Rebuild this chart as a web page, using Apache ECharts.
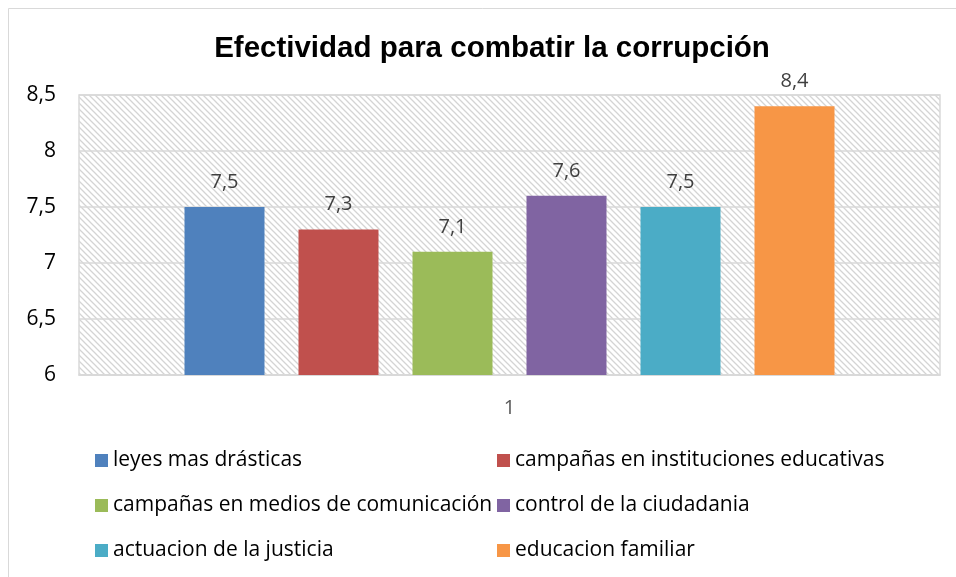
<!DOCTYPE html>
<html>
<head>
<meta charset="utf-8">
<script src="https://cdn.jsdelivr.net/npm/echarts@6/dist/echarts.min.js"></script>
<style>html,body{margin:0;padding:0;background:#fff}#c{width:956px;height:577px}</style>
</head>
<body>
<div id="c"></div>
<script>
const categories = ['1'];
const seriesNames = ['leyes mas drásticas', 'campañas en instituciones educativas', 'campañas en medios de comunicación', 'control de la ciudadania', 'actuacion de la justicia', 'educacion familiar'];
const seriesValues = [7.5, 7.3, 7.1, 7.6, 7.5, 8.4];
const seriesColors = ['#4f81bd', '#c0504d', '#9bbb59', '#8064a2', '#4bacc6', '#f79646'];
const titleText = 'Efectividad para combatir la corrupción';

const tile = document.createElement('canvas');
tile.width = 6; tile.height = 6;
const tc = tile.getContext('2d');
tc.fillStyle = '#ffffff'; tc.fillRect(0, 0, 6, 6);
tc.strokeStyle = '#d4d4d4'; tc.lineWidth = 1.3;
tc.beginPath();
tc.moveTo(-1, -1); tc.lineTo(7, 7);
tc.moveTo(-7, -1); tc.lineTo(1, 7);
tc.moveTo(5, -1); tc.lineTo(13, 7);
tc.stroke();

const fmt = v => String(v).replace('.', ',');
const font = '"Open Sans", sans-serif';

const chart = echarts.init(document.getElementById('c'), null, {renderer: 'canvas'});
chart.setOption({
  animation: false,
  backgroundColor: '#ffffff',
  title: {
    text: titleText, left: 487, textAlign: 'center', top: 29,
    textStyle: {fontFamily: 'Liberation Sans, Arial, sans-serif', fontWeight: 'bold', fontSize: 29.5, color: '#000'}
  },
  graphic: [{type: 'rect', shape: {x: 8.5, y: 8.5, width: 1000, height: 1000}, style: {fill: null, stroke: '#d9d9d9', lineWidth: 1}, silent: true, z: -1}],
  legend: [
    {data: [seriesNames[0], seriesNames[2], seriesNames[4]], orient: 'vertical', left: 95, top: 450, padding: 0,
     itemWidth: 13, itemHeight: 13, itemGap: 24, icon: 'rect',
     textStyle: {fontFamily: font, fontSize: 21, color: '#000', lineHeight: 20}},
    {data: [seriesNames[1], seriesNames[3], seriesNames[5]], orient: 'vertical', left: 497, top: 450, padding: 0,
     itemWidth: 13, itemHeight: 13, itemGap: 24, icon: 'rect',
     textStyle: {fontFamily: font, fontSize: 21, color: '#000', lineHeight: 20}}
  ],
  grid: {left: 79, right: 16, top: 95, bottom: 202, show: true,
    backgroundColor: {image: tile, repeat: 'repeat'}, borderColor: '#d9d9d9', borderWidth: 1.5},
  xAxis: {type: 'category', data: categories,
    axisLine: {show: true, lineStyle: {color: '#d9d9d9', width: 1.5}}, axisTick: {show: false},
    axisLabel: {fontFamily: font, fontSize: 20, color: '#595959', margin: 23}},
  yAxis: {type: 'value', min: 6, max: 8.5, interval: 0.5,
    axisLine: {show: false}, axisTick: {show: false},
    splitLine: {lineStyle: {color: '#d9d9d9', width: 1.5}},
    axisLabel: {fontFamily: font, fontSize: 21, color: '#000', margin: 23, formatter: fmt}},
  series: seriesNames.map((n, i) => ({
    name: n, type: 'bar', data: [seriesValues[i]], barWidth: 80, barGap: '42.5%',
    itemStyle: {color: seriesColors[i]},
    label: {show: true, position: 'top', distance: 15, fontFamily: font, fontSize: 20, color: '#404040', formatter: p => fmt(p.value)}
  }))
});
</script>
</body>
</html>
